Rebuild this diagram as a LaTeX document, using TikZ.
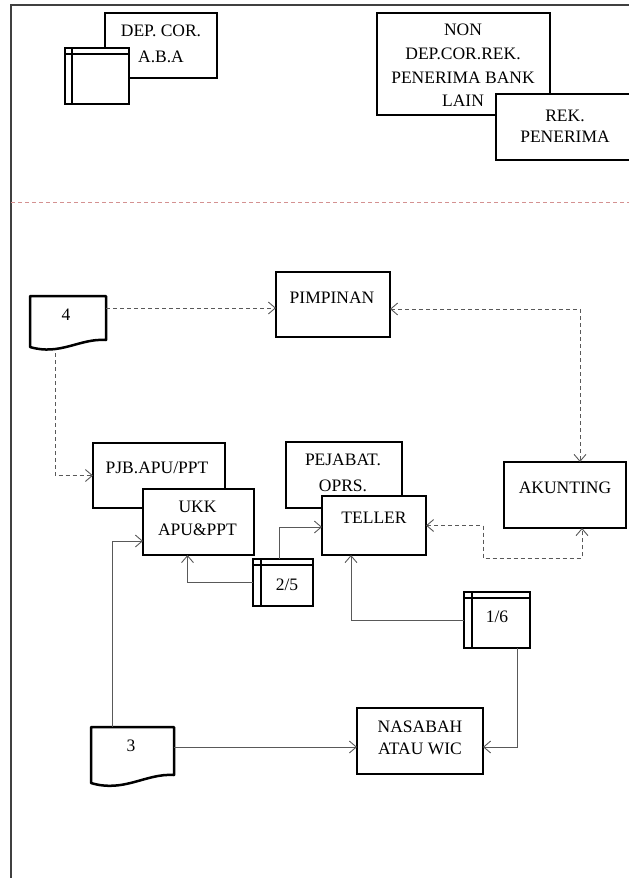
\documentclass[tikz,border=0pt]{standalone}
\usepackage{fontspec}
\setmainfont{Liberation Serif}
\usetikzlibrary{arrows.meta}
\definecolor{sepred}{RGB}{212,145,145}
\newcommand\drawfileicon[2]{%
  \draw[line width=2.5pt] ([yshift=-6pt]#1.north west) -- ([yshift=-6pt]#1.north east);
  \draw[line width=2.5pt] ([xshift=#2]#1.north west) -- ([xshift=#2]#1.south west);}
\begin{document}
\begin{tikzpicture}[x=1pt,y=-1pt,
  box/.style={draw=black, line width=2.5pt, fill=white, inner sep=0pt, outer sep=0pt, anchor=north west},
  docbox/.style={box, draw=none, fill=none},
  docline/.style={draw=black, line width=2.5pt, fill=white, line join=round},
  txt/.style={align=center, inner sep=0pt, font=\fontsize{17.5}{23}\selectfont},
  conn/.style={draw=black!65, line width=0.9pt},
  dconn/.style={conn, dash pattern=on 4pt off 3pt},
  tip/.style={-{Straight Barb[length=7pt,width=12pt]}},
  tips/.style={{Straight Barb[length=7pt,width=12pt]}-{Straight Barb[length=7pt,width=12pt]}},
]
\useasboundingbox (0,0) rectangle (629,878);
\clip (0,0) rectangle (629,878);
\fill[white] (0,0) rectangle (629,878);

% page frame and section separator
\draw[black!75, line width=1.2pt] (629,5) -- (11,5) -- (11,878);
\draw[sepred, line width=1pt, dash pattern=on 4pt off 3pt] (11,202) -- (629,202);

% upper section
\node[box, minimum width=112pt, minimum height=65pt] (dep) at (105,13) {};
\node[box, minimum width=64pt, minimum height=56pt] (depf) at (65,48) {};
\drawfileicon{depf}{7pt}
\node[box, minimum width=173pt, minimum height=102pt] (non) at (377,13) {};
\node[box, minimum width=140pt, minimum height=66pt] (rek) at (496,94) {};

% lower section boxes
\node[box, minimum width=114pt, minimum height=65pt] (pim) at (276,272) {};
\node[box, minimum width=122pt, minimum height=66pt] (akun) at (504,462) {};
\node[box, minimum width=132pt, minimum height=65pt] (pjb) at (93,443) {};
\node[box, minimum width=111pt, minimum height=66pt] (ukk) at (143,489) {};
\node[box, minimum width=116pt, minimum height=66pt] (pej) at (286,442) {};
\node[box, minimum width=104pt, minimum height=59pt] (tel) at (322,496) {};
\node[box, minimum width=126pt, minimum height=66pt] (nas) at (357,708) {};
\node[box, minimum width=60pt, minimum height=47pt] (f25) at (253,559) {};
\drawfileicon{f25}{8pt}
\node[box, minimum width=66pt, minimum height=56pt] (f16) at (464,592) {};
\drawfileicon{f16}{8pt}

% documents
\node[docbox, minimum width=76pt, minimum height=44pt] (d4) at (30,296) {};
\draw[docline] (d4.south east) -- (d4.north east) -- (d4.north west) -- ([yshift=-7pt]d4.south west)
  .. controls ([xshift=30pt,yshift=-16pt]d4.south west) and ([xshift=-26pt,yshift=2pt]d4.south east) .. (d4.south east) -- cycle;
\node[docbox, minimum width=83pt, minimum height=48pt] (d3) at (91,727) {};
\draw[docline] (d3.south east) -- (d3.north east) -- (d3.north west) -- ([yshift=-8pt]d3.south west)
  .. controls ([xshift=33pt,yshift=-18pt]d3.south west) and ([xshift=-28pt,yshift=2pt]d3.south east) .. (d3.south east) -- cycle;

% dashed flows
\draw[dconn, tip] ([yshift=10pt]d4.east) -- ([yshift=10pt]d4.east -| pim.west);
\draw[dconn, tip] ([xshift=25pt,yshift=-13pt]d4.south west) |- (pjb.west);
\draw[dconn, tips] ([yshift=-4.5pt]pim.east) -| ([xshift=15pt]akun.north);
\coordinate (tk) at ([xshift=57pt,yshift=-32.5pt]tel.east);
\draw[dconn, tips] (tel.east) -| (tk) -| ([xshift=17pt]akun.south);

% solid flows
\draw[conn, tip] (f25.west) -| ([xshift=-11pt]ukk.south);
\draw[conn, tip] ([xshift=-4pt]f25.north) |- ([yshift=-1.5pt]tel.west);
\draw[conn, tip] ([xshift=-20pt]d3.north) |- ([yshift=-19pt]ukk.west);
\draw[conn, tip] ([yshift=4pt]d3.east) -- ([yshift=4pt]d3.east -| nas.west);
\draw[conn, tip] (f16.west) -| ([xshift=-23pt]tel.south);
\draw[conn, tip] ([xshift=20pt]f16.south) |- ([yshift=-6pt]nas.east);

% labels
\node[txt, font=\fontsize{17.5}{26}\selectfont] (depT) at (161,44) {DEP. COR.\\A.B.A};
\node[txt, font=\fontsize{17.5}{23.7}\selectfont] (nonT) at (463,65.5) {NON\\DEP.COR.REK.\\PENERIMA BANK\\LAIN};
\node[txt, font=\fontsize{17.5}{21}\selectfont] (rekT) at (565,126) {REK.\\PENERIMA};
\node[txt] (pimT) at (332,298) {PIMPINAN};
\node[txt] (d4T) at (66,315) {4};
\node[txt] (pjbT) at (157,468) {PJB.APU/PPT};
\node[txt] (ukkT) at (197.5,518.5) {UKK\\APU\&PPT};
\node[txt, font=\fontsize{17.5}{25.5}\selectfont] (pejT) at (343,473) {PEJABAT.\\OPRS.};
\node[txt] (telT) at (374,518) {TELLER};
\node[txt] (akunT) at (565,488) {AKUNTING};
\node[txt] (f25T) at (287,585) {2/5};
\node[txt] (f16T) at (497,617) {1/6};
\node[txt] (d3T) at (131,746) {3};
\node[txt, font=\fontsize{17.5}{22}\selectfont] (nasT) at (420,738) {NASABAH\\ATAU WIC};
\end{tikzpicture}
\end{document}
